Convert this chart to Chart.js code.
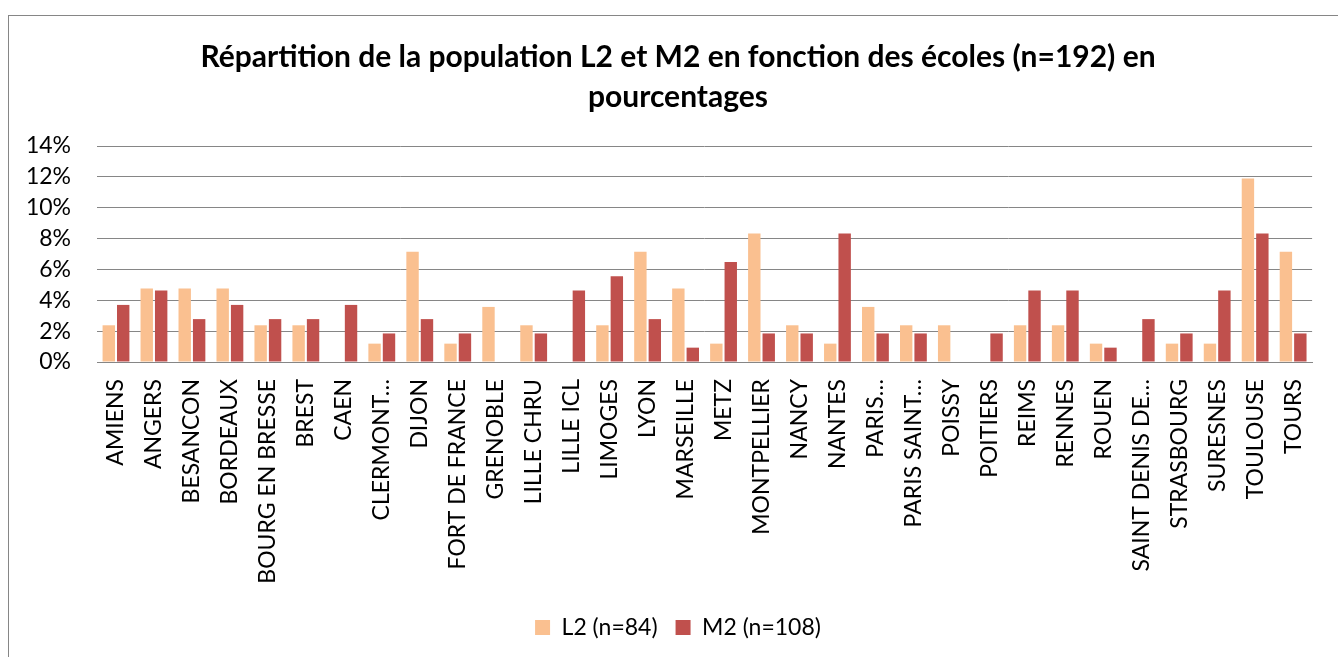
<!DOCTYPE html>
<html><head><meta charset="utf-8">
<script src="https://cdn.jsdelivr.net/npm/chart.js@4/dist/chart.umd.min.js"></script>
<style>
html,body{margin:0;padding:0;background:#fff;overflow:hidden;}
#wrap{position:relative;width:1338px;height:657px;}
#frame{position:absolute;left:8px;top:15px;width:1400px;height:700px;border:1px solid #868686;box-sizing:border-box;pointer-events:none;}
canvas{position:absolute;left:0;top:0;}
</style></head>
<body><div id="wrap"><canvas id="c" width="1338" height="657"></canvas><div id="frame"></div></div>
<script>
const titleLines = ["Répartition de la population L2 et M2 en fonction des écoles (n=192) en", "pourcentages"];
const categories = ["AMIENS","ANGERS","BESANCON","BORDEAUX","BOURG EN BRESSE","BREST","CAEN","CLERMONT…","DIJON","FORT DE FRANCE","GRENOBLE","LILLE CHRU","LILLE ICL","LIMOGES","LYON","MARSEILLE","METZ","MONTPELLIER","NANCY","NANTES","PARIS…","PARIS SAINT…","POISSY","POITIERS","REIMS","RENNES","ROUEN","SAINT DENIS DE…","STRASBOURG","SURESNES","TOULOUSE","TOURS"];
const seriesNames = ["L2 (n=84)", "M2 (n=108)"];
const l2Values = [2.38,4.76,4.76,4.76,2.38,2.38,0,1.19,7.14,1.19,3.57,2.38,0,2.38,7.14,4.76,1.19,8.33,2.38,1.19,3.57,2.38,2.38,0,2.38,2.38,1.19,0,1.19,1.19,11.9,7.14];
const m2Values = [3.70,4.63,2.78,3.70,2.78,2.78,3.70,1.85,2.78,1.85,0,1.85,4.63,5.56,2.78,0.93,6.48,1.85,1.85,8.33,1.85,1.85,0,1.85,4.63,4.63,0.93,2.78,1.85,4.63,8.33,1.85];
const yTicks = {min:0, max:14, step:2};

const FONT = "Lato, 'Open Sans', sans-serif";
const shiftBoxes = {
  id: 'shiftBoxes',
  afterLayout(chart) {
    const dx = 14;
    [chart.titleBlock, chart.legend].forEach(b => { if (b) { b.left += dx; b.right += dx; } });
  }
};
new Chart(document.getElementById('c'), {
  type: 'bar',
  data: {
    labels: categories,
    datasets: [
      {label: seriesNames[0], data: l2Values, backgroundColor: '#FAC090', borderWidth:0},
      {label: seriesNames[1], data: m2Values, backgroundColor: '#C0504D', borderWidth:0}
    ]
  },
  plugins: [shiftBoxes],
  options: {
    responsive: false,
    animation: false,
    devicePixelRatio: 1,
    layout: {padding: {left: 8, right: 18, top: 0, bottom: 8}},
    datasets: {bar: {categoryPercentage: 0.76, barPercentage: 0.86}},
    plugins: {
      tooltip: {enabled: false},
      title: {
        display: true, text: titleLines, color: '#000',
        font: {family: FONT, size: 30, weight: 'bold', lineHeight: '40px'},
        padding: {top: 37, bottom: 29}
      },
      legend: {
        position: 'bottom',
        labels: {
          color: '#000', font: {family: FONT, size: 23},
          boxWidth: 15, boxHeight: 15, padding: 18
        }
      }
    },
    scales: {
      x: {
        grid: {display: false, drawTicks: false},
        border: {display: true, color: '#868686', width: 1},
        ticks: {
          color: '#000', font: {family: FONT, size: 23},
          maxRotation: 90, minRotation: 90, autoSkip: false, padding: 17
        },
        afterFit: s => { s.height = 236; }
      },
      y: {
        min: yTicks.min, max: yTicks.max,
        grid: {color: '#868686', lineWidth: 1, drawTicks: false},
        border: {display: false},
        ticks: {
          stepSize: yTicks.step, color: '#000', font: {family: FONT, size: 23}, padding: 26,
          callback: v => v + '%'
        },
        afterFit: s => { s.width = 89; }
      }
    }
  }
});
</script></body></html>
